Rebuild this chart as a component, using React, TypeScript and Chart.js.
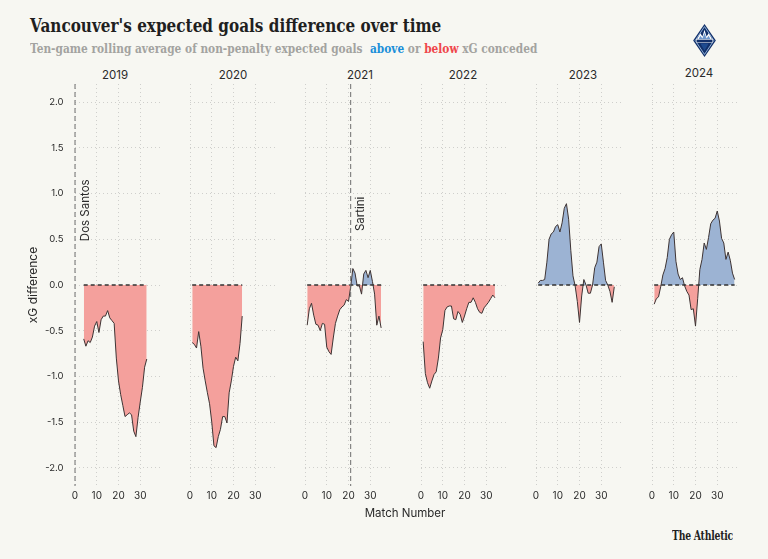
import React, { useEffect, useLayoutEffect, useRef, useState } from "react";
import { Chart, registerables } from "chart.js";

Chart.register(...registerables);

// ---------------- DATA ----------------
const seasons = ["2019", "2020", "2021", "2022", "2023", "2024"];
const firstMatch = [4, 1, 1, 1, 1, 1];

const xg2019 = [-0.59, -0.67, -0.61, -0.63, -0.57, -0.45, -0.40, -0.52, -0.38, -0.34, -0.34, -0.28, -0.36, -0.39, -0.42, -0.80, -1.05, -1.20, -1.32, -1.44, -1.42, -1.40, -1.42, -1.60, -1.66, -1.45, -1.28, -1.12, -0.90, -0.81];
const xg2020 = [-0.63, -0.65, -0.69, -0.51, -0.67, -0.91, -1.05, -1.18, -1.30, -1.50, -1.76, -1.78, -1.66, -1.58, -1.44, -1.44, -1.51, -1.18, -1.05, -0.89, -0.79, -0.83, -0.64, -0.34];
const xg2021 = [-0.44, -0.26, -0.20, -0.33, -0.43, -0.44, -0.50, -0.42, -0.43, -0.68, -0.73, -0.76, -0.58, -0.42, -0.34, -0.27, -0.24, -0.22, -0.16, -0.18, -0.02, 0.18, 0.13, -0.01, -0.01, -0.10, 0.12, 0.16, 0.08, 0.16, 0.04, -0.10, -0.44, -0.34, -0.47];
const xg2022 = [-0.62, -0.97, -1.07, -1.13, -1.05, -0.98, -0.95, -0.80, -0.58, -0.49, -0.28, -0.24, -0.23, -0.23, -0.37, -0.38, -0.29, -0.32, -0.41, -0.34, -0.26, -0.19, -0.19, -0.14, -0.19, -0.26, -0.30, -0.31, -0.25, -0.22, -0.19, -0.15, -0.11, -0.14];
const xg2023 = [0.02, 0.05, 0.05, 0.06, 0.25, 0.50, 0.56, 0.58, 0.64, 0.66, 0.58, 0.68, 0.84, 0.89, 0.72, 0.38, 0.10, -0.01, -0.18, -0.41, -0.12, 0.06, 0.00, -0.09, -0.09, 0.00, 0.19, 0.25, 0.42, 0.45, 0.25, 0.05, 0.00, -0.07, -0.19, -0.02];
const xg2024 = [-0.21, -0.15, -0.13, -0.02, 0.11, 0.18, 0.30, 0.50, 0.55, 0.58, 0.26, 0.12, 0.06, 0.08, -0.01, -0.07, -0.11, -0.27, -0.26, -0.45, -0.15, 0.17, 0.28, 0.46, 0.39, 0.52, 0.67, 0.71, 0.73, 0.81, 0.70, 0.51, 0.46, 0.28, 0.36, 0.27, 0.13, 0.06];
const seasonSeries = [xg2019, xg2020, xg2021, xg2022, xg2023, xg2024];

const xTicks = [0, 10, 20, 30];
const yTicks = [2.0, 1.5, 1.0, 0.5, 0.0, -0.5, -1.0, -1.5, -2.0];

const managerSeason = ["2019", "2021"];
const managerMatch = [0, 21];
const managerName = ["Dos Santos", "Sartini"];

// ---------------- STYLE / LAYOUT ----------------
const BG = "#f7f7f2";
const RED = "#f4a09c";
const BLUE = "#9cb3d3";
const LINE = "#3d3333";
const GRID = "#cfcfcc";
const TEXT = "#2a2a2a";
const X_MIN = 0;
const X_MAX = 40;
const Y_MIN = -2.2;
const Y_MAX = 2.2;
const managerLabelAt = [0.48, 0.59];

const PANEL_LEFT0 = 74.5;
const PANEL_PITCH = 115.4;
const PANEL_W = 87;
const AREA_TOP = 84;
const AREA_BOTTOM = 486;
const CANVAS_TOP = 78;
const X_AXIS_H = 22;
const Y_AXIS_W = 55;
const yearLabelX = [115, 233, 360, 463, 583, 699];
const yearLabelDy = [0, 0, 0, 0, 0, -2];

const managerPlugin = {
  id: "managers",
  afterDatasetsDraw(chart: any, _args: any, opts: any) {
    const items = (opts && opts.items) || [];
    const { ctx, chartArea, scales } = chart;
    items.forEach((m: any) => {
      const x = scales.x.getPixelForValue(m.match);
      ctx.save();
      ctx.strokeStyle = "#6e6e6e";
      ctx.lineWidth = 1;
      ctx.setLineDash([5, 3]);
      ctx.beginPath();
      ctx.moveTo(x, chartArea.top);
      ctx.lineTo(x, chartArea.bottom);
      ctx.stroke();
      ctx.setLineDash([]);
      const y = scales.y.getPixelForValue(m.labelY);
      ctx.translate(x + 13.5, y);
      ctx.rotate(-Math.PI / 2);
      ctx.fillStyle = TEXT;
      ctx.font = "11.5px Inter";
      ctx.textAlign = "left";
      ctx.textBaseline = "alphabetic";
      ctx.fillText(m.name, 0, 0);
      ctx.restore();
    });
  },
};

function Panel({ index }: { index: number }) {
  const ref = useRef<HTMLCanvasElement>(null);
  const first = index === 0;
  const areaLeft = PANEL_LEFT0 + PANEL_PITCH * index;
  const padL = first ? 0 : 5;
  const padR = 5;
  const canvasLeft = first ? areaLeft - Y_AXIS_W : areaLeft - padL;
  const width = Math.round(PANEL_W + padR + (first ? Y_AXIS_W : padL));
  const height = AREA_BOTTOM - CANVAS_TOP + X_AXIS_H;

  useEffect(() => {
    if (!ref.current) return;
    const vals = seasonSeries[index];
    const pts = vals.map((v, i) => ({ x: firstMatch[index] + i, y: v }));
    const items = managerSeason
      .map((s, i) => ({ s, match: managerMatch[i], name: managerName[i], labelY: managerLabelAt[i] }))
      .filter((m) => m.s === seasons[index]);

    const chart = new Chart(ref.current, {
      type: "line",
      data: {
        datasets: [
          {
            data: pts,
            borderColor: LINE,
            borderWidth: 1,
            pointRadius: 0,
            tension: 0,
            fill: { target: "origin", above: BLUE, below: RED },
            order: 2,
          } as any,
          {
            data: [
              { x: pts[0].x, y: 0 },
              { x: pts[pts.length - 1].x, y: 0 },
            ],
            borderColor: "#333333",
            borderWidth: 1.5,
            borderDash: [4, 3],
            pointRadius: 0,
            fill: false,
            order: 1,
          } as any,
        ],
      },
      options: {
        animation: false,
        responsive: false,
        maintainAspectRatio: false,
        events: [],
        layout: { padding: { left: padL, right: padR, top: AREA_TOP - CANVAS_TOP, bottom: 0 } },
        plugins: {
          legend: { display: false },
          tooltip: { enabled: false },
          title: { display: false },
          managers: { items },
        } as any,
        scales: {
          x: {
            type: "linear",
            min: X_MIN,
            max: X_MAX,
            afterBuildTicks: (s: any) => {
              s.ticks = xTicks.map((v) => ({ value: v }));
            },
            afterFit: (s: any) => {
              s.height = X_AXIS_H;
              s.paddingLeft = 0;
              s.paddingRight = 0;
              s.paddingTop = 0;
              s.paddingBottom = 0;
            },
            grid: { color: GRID, lineWidth: 1, drawTicks: false },
            border: { display: false, dash: [1, 3] },
            ticks: { font: { family: "Inter", size: 10 }, color: TEXT, padding: 4, maxRotation: 0 },
          },
          y: {
            type: "linear",
            min: Y_MIN,
            max: Y_MAX,
            afterBuildTicks: (s: any) => {
              s.ticks = yTicks.map((v) => ({ value: v }));
            },
            afterFit: (s: any) => {
              s.width = first ? Y_AXIS_W : 0;
              s.paddingTop = 0;
              s.paddingBottom = 0;
              s.paddingLeft = 0;
              s.paddingRight = 0;
            },
            grid: { color: GRID, lineWidth: 1, drawTicks: false },
            border: { display: false, dash: [1, 3] },
            ticks: {
              display: first,
              font: { family: "Inter", size: 9.5 },
              color: TEXT,
              padding: 11.5,
              callback: (v: any) => Number(v).toFixed(1),
            },
            title: {
              display: first,
              text: "xG difference",
              color: TEXT,
              font: { family: "Inter", size: 12 },
              padding: { top: 6, bottom: 0 },
            },
          },
        },
      },
      plugins: [managerPlugin as any],
    });
    return () => chart.destroy();
  }, [index]);

  return (
    <canvas
      ref={ref}
      width={width}
      height={height}
      style={{ position: "absolute", left: canvasLeft, top: CANVAS_TOP, width, height }}
    />
  );
}

function FitText({ left, top, width, style, children }: any) {
  const ref = useRef<HTMLSpanElement>(null);
  const [k, setK] = useState(1);
  useLayoutEffect(() => {
    if (ref.current) {
      const w = ref.current.offsetWidth;
      if (w > 0) setK(width / w);
    }
  }, [width]);
  return (
    <span
      ref={ref}
      style={{
        position: "absolute",
        left,
        top,
        whiteSpace: "pre",
        transformOrigin: "0 0",
        transform: `scaleX(${k})`,
        ...style,
      }}
    >
      {children}
    </span>
  );
}

function Logo() {
  return (
    <svg width={23} height={33} viewBox="0 0 22 32" style={{ position: "absolute", left: 692.5, top: 24 }}>
      <polygon points="11,0 22,16 11,32 0,16" fill="#12306a" />
      <polygon points="11,2.5 20,16 11,29.5 2,16" fill="none" stroke="#a9c9ec" strokeWidth="0.8" />
      <polygon points="3.5,15 7,9 9,12 11,5.5 13,12 15,9 18.5,15" fill="#ffffff" />
      <polygon points="5,15 7,11.5 9,14 11,8.5 13,14 15,11.5 17,15" fill="#6f97cc" />
      <rect x="3" y="15" width="16" height="3" fill="#12306a" stroke="#ffffff" strokeWidth="0.5" />
      <polygon points="7,19 15,19 11,26" fill="#1e4b8f" />
    </svg>
  );
}

export default function App() {
  useEffect(() => {
    document.body.style.margin = "0";
    document.body.style.background = BG;
  }, []);

  const serifBold = { fontFamily: "'DejaVu Serif', serif", fontWeight: 700 };
  const sans = { fontFamily: "Inter, sans-serif", color: TEXT };

  return (
    <div style={{ position: "absolute", left: 0, top: 0, width: 768, height: 559, background: BG, overflow: "hidden" }}>
      <FitText left={30} top={17} width={411} style={{ ...serifBold, fontSize: 18, lineHeight: "18px", color: "#1f1f1f" }}>
        Vancouver's expected goals difference over time
      </FitText>
      <FitText left={30} top={43} width={507} style={{ ...serifBold, fontSize: 12, lineHeight: "12px", color: "#a3a3a0" }}>
        {"Ten-game rolling average of non-penalty expected goals  "}
        <span style={{ color: "#1b8fd9" }}>above</span>
        {" or "}
        <span style={{ color: "#ef464b" }}>below</span>
        {" xG conceded"}
      </FitText>
      <Logo />

      {seasons.map((s, i) => (
        <div
          key={s}
          style={{
            ...sans,
            position: "absolute",
            left: yearLabelX[i] - 30,
            width: 60,
            top: 70 + yearLabelDy[i],
            fontSize: 11.5,
            lineHeight: "11.5px",
            textAlign: "center",
          }}
        >
          {s}
        </div>
      ))}

      {seasons.map((s, i) => (
        <Panel key={s} index={i} />
      ))}

      <div
        style={{
          ...sans,
          position: "absolute",
          left: 305,
          width: 200,
          top: 508,
          fontSize: 11.5,
          lineHeight: "11.5px",
          textAlign: "center",
        }}
      >
        Match Number
      </div>

      <FitText left={672} top={530} width={61} style={{ ...serifBold, fontSize: 12, lineHeight: "12px", color: "#1f1f1f", letterSpacing: "-0.3px" }}>
        The Athletic
      </FitText>
    </div>
  );
}
